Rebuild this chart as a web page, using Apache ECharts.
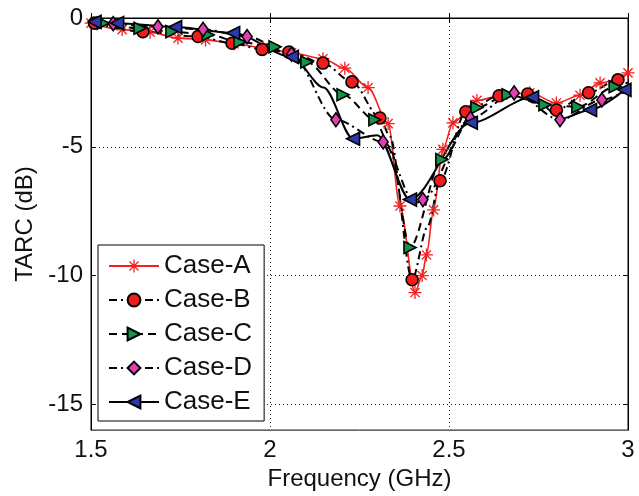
<!DOCTYPE html>
<html>
<head>
<meta charset="utf-8">
<script src="https://cdn.jsdelivr.net/npm/echarts@6/dist/echarts.min.js"></script>
<style>
  html, body { margin: 0; padding: 0; background: #fff; }
  #chart { width: 639px; height: 496px; }
</style>
</head>
<body>
<div id="chart"></div>
<script>
// values (points that carry a marker)
const freqA = [1.50, 1.587, 1.665, 1.743, 1.82, 1.90, 1.98, 2.06, 2.148, 2.209, 2.274, 2.33, 2.363, 2.405, 2.425, 2.437, 2.457, 2.483, 2.511, 2.578, 2.65, 2.726, 2.80, 2.866, 2.922, 3.0];
const tarcA = [-0.2, -0.45, -0.55, -0.78, -0.85, -1.0, -1.15, -1.35, -1.58, -1.95, -2.7, -4.1, -7.3, -10.66, -10.0, -9.2, -7.45, -5.1, -4.07, -3.2, -3.0, -2.9, -3.3, -3.0, -2.52, -2.13];

const freqB = [1.51, 1.645, 1.799, 1.894, 1.978, 2.053, 2.148, 2.229, 2.307, 2.397, 2.475, 2.547, 2.64, 2.72, 2.80, 2.89, 2.972];
const tarcB = [-0.2, -0.53, -0.72, -0.98, -1.22, -1.32, -1.75, -2.48, -3.88, -10.16, -6.32, -3.64, -3.02, -2.95, -3.57, -2.9, -2.4];

const freqC = [1.534, 1.637, 1.726, 1.827, 1.916, 2.014, 2.103, 2.204, 2.293, 2.391, 2.48, 2.578, 2.665, 2.768, 2.86, 2.964];
const tarcC = [-0.2, -0.4, -0.53, -0.65, -0.93, -1.12, -1.71, -2.98, -3.95, -8.91, -5.5, -3.48, -2.98, -3.37, -3.45, -2.67];

const freqD = [1.562, 1.687, 1.813, 1.936, 2.06, 2.184, 2.316, 2.427, 2.56, 2.682, 2.81, 2.927];
const tarcD = [-0.22, -0.34, -0.44, -0.72, -1.4, -3.95, -4.81, -7.05, -3.9, -2.91, -3.95, -3.18];

const freqE = [1.51, 1.573, 1.735, 1.897, 2.061, 2.232, 2.391, 2.561, 2.732, 2.894, 2.99];
const tarcE = [-0.15, -0.2, -0.35, -0.58, -1.51, -4.69, -7.05, -4.07, -3.08, -3.57, -2.79];

// extra points of the curves between markers (no marker drawn)
const freqBBend = [2.335, 2.44, 3.0];
const tarcBBend = [-4.6, -8.1, -2.25];
const freqCBend = [2.335, 3.0];
const tarcCBend = [-5.0, -2.5];
const freqDBend = [2.405, 3.0];
const tarcDBend = [-7.2, -2.8];
const freqEBend = [2.15, 2.30, 2.815];
const tarcEBend = [-2.7, -4.55, -3.9];

const caseNames = ["Case-A", "Case-B", "Case-C", "Case-D", "Case-E"];
const yTicks = [0, -5, -10, -15];

function buildData(xs, ys, bx, by) {
  const pts = xs.map((x, i) => ({ value: [x, ys[i]] }));
  (bx || []).forEach((x, i) => pts.push({ value: [x, by[i]], symbol: "none" }));
  return pts.sort((a, b) => a.value[0] - b.value[0]);
}

// MATLAB style asterisk marker
const starPath =
  "path://M0 9L20 9L20 11L0 11Z M9 0L11 0L11 20L9 20Z " +
  "M3.64 2.22L17.78 16.36L16.36 17.78L2.22 3.64Z M16.36 2.22L17.78 3.64L3.64 17.78L2.22 16.36Z";

const font = "Liberation Sans, Arial, sans-serif";

function mkSeries(name, data, opt) {
  return {
    name: name,
    type: "line",
    data: data,
    smooth: 0.3,
    smoothMonotone: "x",
    symbol: opt.symbol,
    symbolSize: opt.size,
    symbolRotate: opt.rotate || 0,
    showAllSymbol: true,
    z: 3,
    lineStyle: { color: opt.line, width: opt.width, type: opt.type },
    itemStyle: {
      color: opt.fill,
      borderColor: opt.border,
      borderWidth: opt.borderWidth,
    },
    emphasis: { disabled: true },
  };
}

const chart = echarts.init(document.getElementById("chart"));

chart.setOption({
  animation: false,
  grid: {
    left: 91,
    right: 11,
    top: 18,
    bottom: 64,
    show: true,
    borderColor: "#000",
    borderWidth: 1,
    backgroundColor: "#fff",
  },
  legend: {
    orient: "vertical",
    left: 98,
    top: 245,
    data: caseNames,
    itemWidth: 50,
    itemHeight: 16,
    itemGap: 8,
    padding: [8, 12, 6, 10],
    borderColor: "#000",
    borderWidth: 1,
    borderRadius: 0,
    backgroundColor: "#fff",
    textStyle: { fontSize: 26, color: "#111", fontFamily: font },
  },
  xAxis: [
    {
      type: "value",
      min: 1.5,
      max: 3,
      interval: 0.5,
      name: "Frequency (GHz)",
      nameLocation: "middle",
      nameGap: 34,
      nameTextStyle: { fontSize: 24, color: "#111", fontFamily: font },
      axisLine: { lineStyle: { color: "#000" } },
      axisTick: { inside: true, length: 5, lineStyle: { color: "#000" } },
      axisLabel: { fontSize: 24, color: "#111", fontFamily: font, margin: 8 },
      splitLine: {
        show: true,
        lineStyle: { color: "#222", type: [1, 3], width: 1 },
      },
    },
    {
      type: "value",
      position: "top",
      min: 1.5,
      max: 3,
      interval: 0.5,
      axisLine: { lineStyle: { color: "#000" } },
      axisTick: { inside: true, length: 5, lineStyle: { color: "#000" } },
      axisLabel: { show: false },
      splitLine: { show: false },
    },
  ],
  yAxis: [
    {
      type: "value",
      min: -16,
      max: 0,
      name: "TARC (dB)",
      nameLocation: "middle",
      nameGap: 50,
      nameTextStyle: { fontSize: 24, color: "#111", fontFamily: font },
      axisLine: { show: true, lineStyle: { color: "#000" } },
      axisTick: { show: true, inside: true, length: 5, customValues: yTicks, lineStyle: { color: "#000" } },
      axisLabel: { fontSize: 24, color: "#111", fontFamily: font, margin: 8, customValues: yTicks },
      splitLine: { show: false },
    },
    {
      type: "value",
      position: "right",
      min: -16,
      max: 0,
      axisLine: { show: true, lineStyle: { color: "#000" } },
      axisTick: { show: true, inside: true, length: 5, customValues: yTicks, lineStyle: { color: "#000" } },
      axisLabel: { show: false },
      splitLine: { show: false },
    },
  ],
  series: [
    {
      // dotted horizontal grid lines at the labelled ticks
      name: "grid",
      type: "line",
      data: [],
      z: 1,
      silent: true,
      markLine: {
        silent: true,
        symbol: "none",
        label: { show: false },
        z: 1,
        lineStyle: { color: "#222", type: [1, 3], width: 1 },
        data: yTicks.filter((v) => v !== 0).map((v) => ({ yAxis: v })),
      },
    },
    mkSeries(caseNames[0], buildData(freqA, tarcA), {
      symbol: starPath, size: 13, line: "#f42020", width: 1.6, type: "solid",
      fill: "#f42020", border: "#f42020", borderWidth: 0,
    }),
    mkSeries(caseNames[1], buildData(freqB, tarcB, freqBBend, tarcBBend), {
      symbol: "circle", size: 12, line: "#000", width: 2, type: [8, 4, 2, 4],
      fill: "#f01c1c", border: "#000", borderWidth: 1.6,
    }),
    mkSeries(caseNames[2], buildData(freqC, tarcC, freqCBend, tarcCBend), {
      symbol: "triangle", size: 12, rotate: -90, line: "#000", width: 2, type: [8, 5],
      fill: "#13944a", border: "#000", borderWidth: 1.6,
    }),
    mkSeries(caseNames[3], buildData(freqD, tarcD, freqDBend, tarcDBend), {
      symbol: "diamond", size: [10, 14], line: "#000", width: 2, type: [8, 4, 2, 4],
      fill: "#e23fb4", border: "#000", borderWidth: 1.6,
    }),
    mkSeries(caseNames[4], buildData(freqE, tarcE, freqEBend, tarcEBend), {
      symbol: "triangle", size: 13, rotate: 90, line: "#000", width: 2, type: "solid",
      fill: "#2a3aa8", border: "#000", borderWidth: 1.6,
    }),
  ],
});
</script>
</body>
</html>
